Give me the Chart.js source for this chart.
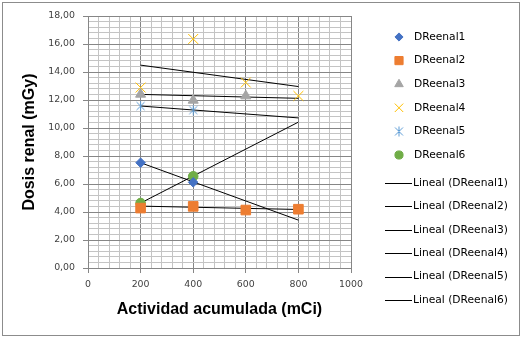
<!DOCTYPE html>
<html>
<head>
<meta charset="utf-8">
<script src="https://cdn.jsdelivr.net/npm/chart.js@4"></script>
<style>
  html, body { margin: 0; padding: 0; background: #fff; }
  #wrap { position: relative; width: 525px; height: 339px; }
</style>
</head>
<body>
<div id="wrap"><canvas id="chart" width="525" height="339"></canvas></div>
<script>
// actividad acumulada (mCi)
const actividad = [200, 400, 600, 800];

// dosis renal (mGy) per patient, null where no measurement
const dReenal1 = [7.52, 6.12, null, null];
const dReenal2 = [4.28, 4.40, 4.14, 4.20];
const dReenal3 = [12.41, 11.98, 12.29, null];
const dReenal4 = [12.89, 16.36, 13.25, 12.29];
const dReenal5 = [11.57, 11.28, null, null];
const dReenal6 = [4.64, 6.55, null, null];

// linear trend lines (value at 200 and at 800)
const trendX = [200, 800];
const lineal1 = [7.52, 3.42];
const lineal2 = [4.42, 4.18];
const lineal3 = [12.40, 12.12];
const lineal4 = [14.49, 12.96];
const lineal5 = [11.57, 10.72];
const lineal6 = [4.64, 10.42];

const seriesNames = ["DReenal1", "DReenal2", "DReenal3", "DReenal4", "DReenal5", "DReenal6"];
const seriesValues = [dReenal1, dReenal2, dReenal3, dReenal4, dReenal5, dReenal6];
const trendValues = [lineal1, lineal2, lineal3, lineal4, lineal5, lineal6];

const colors = ["#4472C4", "#ED7D31", "#A5A5A5", "#FFC000", "#5B9BD5", "#70AD47"];

// excel style asterisk marker (vertical bar + X)
function makeAsterisk(size, color) {
  const c = document.createElement("canvas");
  c.width = size;
  c.height = size;
  const g = c.getContext("2d");
  const m = size / 2;
  const r = size / 2 - 0.5;
  g.strokeStyle = color;
  g.lineWidth = 1;
  g.beginPath();
  g.moveTo(m, m - r); g.lineTo(m, m + r);
  g.moveTo(m - r * 0.8, m - r * 0.8); g.lineTo(m + r * 0.8, m + r * 0.8);
  g.moveTo(m + r * 0.8, m - r * 0.8); g.lineTo(m - r * 0.8, m + r * 0.8);
  g.stroke();
  return c;
}

const markers = [
  { style: "rectRot", radius: 4.8 },
  { style: "rect", radius: 6.8 },
  { style: "triangle", radius: 5.8 },
  { style: "crossRot", radius: 7 },
  { style: makeAsterisk(11, colors[4]), radius: 5 },
  { style: "circle", radius: 4.8 },
];

const scatterSets = seriesValues.map((vals, i) => ({
  label: seriesNames[i],
  data: actividad.map((x, j) => ({ x: x, y: vals[j] })).filter((p) => p.y !== null),
  showLine: false,
  pointStyle: markers[i].style,
  pointRadius: markers[i].radius,
  pointHoverRadius: markers[i].radius,
  backgroundColor: colors[i],
  borderColor: colors[i],
  pointBorderWidth: 1,
}));

const trendSets = trendValues.map((vals, i) => ({
  label: "Lineal (" + seriesNames[i] + ")",
  data: trendX.map((x, j) => ({ x: x, y: vals[j] })),
  showLine: true,
  pointRadius: 0,
  borderColor: "#000",
  borderWidth: 1,
  backgroundColor: "#000",
}));

const MAJOR = "#868686";
const MINOR = "#c4c4c4";

function isMajor(v, step) {
  const q = v / step;
  return Math.abs(q - Math.round(q)) < 1e-6;
}

const frame = {
  id: "frame",
  beforeDraw(chart) {
    const ctx = chart.ctx;
    ctx.save();
    ctx.fillStyle = "#fff";
    ctx.fillRect(0, 0, chart.width, chart.height);
    ctx.strokeStyle = "#8c8c8c";
    ctx.lineWidth = 1;
    ctx.strokeRect(2.5, 2.5, 517, 333);
    ctx.restore();
  },
};

const sideLegend = {
  id: "sideLegend",
  afterDraw(chart) {
    const ctx = chart.ctx;
    ctx.save();
    ctx.font = '10.7px "DejaVu Sans"';
    ctx.textBaseline = "middle";
    chart.data.datasets.forEach((ds, i) => {
      let y;
      if (!ds.showLine) {
        y = 37 + i * 23.6;
        ctx.fillStyle = ds.backgroundColor;
        ctx.strokeStyle = ds.borderColor;
        ctx.lineWidth = 1;
        Chart.helpers.drawPoint(ctx, {
          pointStyle: ds.pointStyle,
          radius: ds.pointRadius * 0.85,
          borderWidth: 1,
          rotation: 0,
        }, 399, y);
        ctx.fillStyle = "#000";
        ctx.fillText(ds.label, 414, y);
      } else {
        y = 183 + (i - 6) * 23.4;
        ctx.strokeStyle = "#000";
        ctx.lineWidth = 1;
        ctx.beginPath();
        ctx.moveTo(385, Math.round(y) + 0.5);
        ctx.lineTo(412, Math.round(y) + 0.5);
        ctx.stroke();
        ctx.fillStyle = "#000";
        ctx.fillText(ds.label, 413, y);
      }
    });
    ctx.restore();
  },
};

new Chart(document.getElementById("chart"), {
  type: "scatter",
  data: { datasets: scatterSets.concat(trendSets) },
  options: {
    responsive: false,
    animation: false,
    layout: { padding: { top: 16, right: 174, left: 0, bottom: 0 } },
    plugins: {
      legend: { display: false },
      tooltip: { enabled: false },
    },
    scales: {
      x: {
        type: "linear",
        min: 0,
        max: 1000,
        afterFit: (scale) => { scale.height = 71; },
        ticks: {
          stepSize: 40,
          autoSkip: false,
          maxRotation: 0,
          padding: 6,
          color: "#404040",
          font: { family: "DejaVu Sans", size: 9.4 },
          callback: (v) => (isMajor(v, 200) ? String(v) : ""),
        },
        grid: {
          color: (c) => (isMajor(c.tick.value, 200) ? MAJOR : MINOR),
          tickColor: (c) => (isMajor(c.tick.value, 200) ? MAJOR : "rgba(0,0,0,0)"),
          tickLength: 5,
        },
        border: { color: MAJOR },
        title: {
          display: true,
          text: "Actividad acumulada (mCi)",
          color: "#000",
          font: { family: "Liberation Sans", size: 16, weight: "bold" },
          padding: { top: 0, bottom: 19.4 },
        },
      },
      y: {
        min: 0,
        max: 18,
        afterFit: (scale) => { scale.width = 88; },
        ticks: {
          stepSize: 0.4,
          autoSkip: false,
          padding: 8,
          color: "#404040",
          font: { family: "DejaVu Sans", size: 9.4 },
          callback: (v) => (isMajor(v, 2) ? v.toFixed(2).replace(".", ",") : ""),
        },
        grid: {
          color: (c) => (isMajor(c.tick.value, 2) ? MAJOR : MINOR),
          tickColor: (c) => (isMajor(c.tick.value, 2) ? MAJOR : "rgba(0,0,0,0)"),
          tickLength: 5,
        },
        border: { color: MAJOR },
        title: {
          display: true,
          text: "Dosis renal (mGy)",
          color: "#000",
          font: { family: "Liberation Sans", size: 16, weight: "bold" },
          padding: { top: 20.4, bottom: 0 },
        },
      },
    },
  },
  plugins: [frame, sideLegend],
});
</script>
</body>
</html>
